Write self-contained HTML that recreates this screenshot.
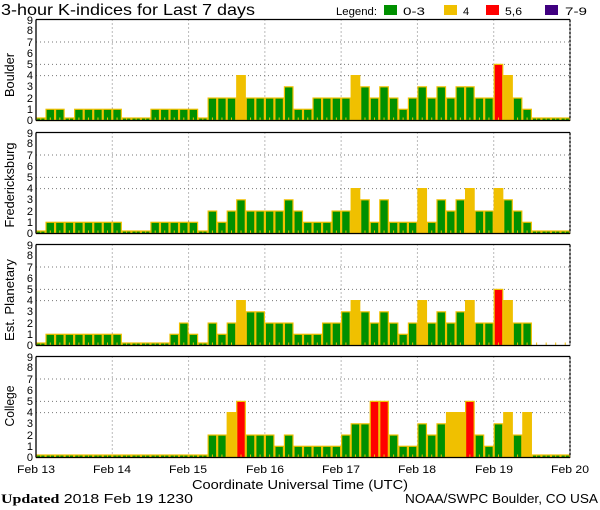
<!DOCTYPE html>
<html><head><meta charset="utf-8"><style>
html,body{margin:0;padding:0;background:#fff;}
svg{display:block;font-family:"Liberation Sans",sans-serif;}
</style></head><body>
<svg id="s" width="600" height="510" viewBox="0 0 600 510" xmlns="http://www.w3.org/2000/svg">
<rect width="600" height="510" fill="#fff"/>
<text x="1" y="15" font-size="16" fill="#000" textLength="254" lengthAdjust="spacingAndGlyphs">3-hour K-indices for Last 7 days</text>
<text x="336" y="15" font-size="11" textLength="41" lengthAdjust="spacingAndGlyphs">Legend:</text>
<rect x="384" y="5" width="13" height="10" fill="#009000"/><text x="403" y="15" font-size="11" textLength="22" lengthAdjust="spacingAndGlyphs">0-3</text>
<rect x="444" y="5" width="13" height="10" fill="#f0c000"/><text x="463" y="15" font-size="11">4</text>
<rect x="486" y="5" width="13" height="10" fill="#ff0000"/><text x="505" y="15" font-size="11" textLength="17" lengthAdjust="spacingAndGlyphs">5,6</text>
<rect x="545" y="5" width="13" height="10" fill="#400080"/><text x="565" y="15" font-size="11" textLength="22" lengthAdjust="spacingAndGlyphs">7-9</text>
<g id="plots"></g>
<g font-size="11" text-anchor="end" id="ylab">
<g><text x="33" y="124">0</text><text x="33" y="113">1</text><text x="33" y="102">2</text><text x="33" y="90">3</text><text x="33" y="79">4</text><text x="33" y="68">5</text><text x="33" y="57">6</text><text x="33" y="46">7</text><text x="33" y="34">8</text><text x="33" y="24">9</text></g>
<g transform="translate(0,113)"><text x="33" y="124">0</text><text x="33" y="113">1</text><text x="33" y="102">2</text><text x="33" y="90">3</text><text x="33" y="79">4</text><text x="33" y="68">5</text><text x="33" y="57">6</text><text x="33" y="46">7</text><text x="33" y="34">8</text><text x="33" y="24">9</text></g>
<g transform="translate(0,225)"><text x="33" y="124">0</text><text x="33" y="113">1</text><text x="33" y="102">2</text><text x="33" y="90">3</text><text x="33" y="79">4</text><text x="33" y="68">5</text><text x="33" y="57">6</text><text x="33" y="46">7</text><text x="33" y="34">8</text><text x="33" y="24">9</text></g>
<g transform="translate(0,337)"><text x="33" y="124">0</text><text x="33" y="113">1</text><text x="33" y="102">2</text><text x="33" y="90">3</text><text x="33" y="79">4</text><text x="33" y="68">5</text><text x="33" y="57">6</text><text x="33" y="46">7</text><text x="33" y="34">8</text><text x="33" y="24">9</text></g>
</g>
<g font-size="13" text-anchor="middle" lengthAdjust="spacingAndGlyphs">
<text transform="translate(14,75) rotate(-90)" textLength="44" lengthAdjust="spacingAndGlyphs">Boulder</text>
<text transform="translate(14,185) rotate(-90)" textLength="85" lengthAdjust="spacingAndGlyphs">Fredericksburg</text>
<text transform="translate(14,300) rotate(-90)" textLength="82" lengthAdjust="spacingAndGlyphs">Est. Planetary</text>
<text transform="translate(14,406) rotate(-90)" textLength="41" lengthAdjust="spacingAndGlyphs">College</text>
</g>
<g font-size="11" text-anchor="middle">
<text x="36" y="473" textLength="38" lengthAdjust="spacingAndGlyphs">Feb 13</text><text x="112" y="473" textLength="38" lengthAdjust="spacingAndGlyphs">Feb 14</text><text x="188" y="473" textLength="38" lengthAdjust="spacingAndGlyphs">Feb 15</text><text x="265" y="473" textLength="38" lengthAdjust="spacingAndGlyphs">Feb 16</text><text x="341" y="473" textLength="38" lengthAdjust="spacingAndGlyphs">Feb 17</text><text x="417" y="473" textLength="38" lengthAdjust="spacingAndGlyphs">Feb 18</text><text x="494" y="473" textLength="38" lengthAdjust="spacingAndGlyphs">Feb 19</text><text x="570" y="473" textLength="38" lengthAdjust="spacingAndGlyphs">Feb 20</text>
</g>
<text x="300" y="489" font-size="13" text-anchor="middle" textLength="216" lengthAdjust="spacingAndGlyphs">Coordinate Universal Time (UTC)</text>
<text x="1" y="503" font-size="13" textLength="192" lengthAdjust="spacingAndGlyphs"><tspan font-family="Liberation Serif" font-weight="bold">Updated</tspan> 2018 Feb 19 1230</text>
<text x="598" y="503" font-size="13" text-anchor="end" textLength="193" lengthAdjust="spacingAndGlyphs">NOAA/SWPC Boulder, CO USA</text>
</svg>
<script>
var data=[
[0,1,1,0,1,1,1,1,1,0,0,0,1,1,1,1,1,0,2,2,2,4,2,2,2,2,3,1, 1,2,2,2,2,4,3,2,3,2,1,2,3,2,3,2,3,3,2,2,5,4,2,1,0,0,0,0],
[0,1,1,1,1,1,1,1,1,0,0,0,1,1,1,1,1,0,2,1,2,3,2,2,2,2,3,2, 1,1,1,2,2,4,3,1,3,1,1,1,4,1,3,2,3,4,2,2,4,3,2,1,0,0,0,0],
[0,1,1,1,1,1,1,1,1,0,0,0,0,0,1,2,1,0,2,1,2,4,3,3,2,2,2,1, 1,1,2,2,3,4,3,2,3,2,1,2,4,2,3,2,3,4,2,2,5,4,2,2,null,null,null,null],
[0,0,0,0,0,0,0,0,0,0,0,0,0,0,0,0,0,0,2,2,4,5,2,2,2,1,2,1, 1,1,1,1,2,3,3,5,5,2,1,1,3,2,3,4,4,5,2,1,3,4,2,4,0,0,0,0]];
var tops=[19.5,132.5,244.5,356.5],H=101,U=101/9,X0=36,W=534,bw=W/56;
var g=document.getElementById('plots'),s='';
function col(v){return v<=3?'#009000':v==4?'#f0c000':v<=6?'#ff0000':'#400080';}
for(var p=0;p<4;p++){var t=tops[p],b=t+H;
 [4,5,7].forEach(function(v){var y=b-v*U;s+='<line x1="36" x2="570" y1="'+y+'" y2="'+y+'" stroke="#777" stroke-dasharray="1,3"/>';});
 for(var d=1;d<7;d++){var x=X0+d*W/7;s+='<line x1="'+x+'" x2="'+x+'" y1="'+t+'" y2="'+b+'" stroke="#777" stroke-dasharray="1,3"/>';}
 for(var i=0;i<56;i++){var v=data[p][i],x=X0+i*bw;
  if(v!==null){var h=v==0?2.5:v*U;s+='<rect x="'+(x+0.5)+'" y="'+(b-h)+'" width="'+(bw-1)+'" height="'+h+'" fill="'+col(v)+'" stroke="#f0c000" stroke-width="1.2"/>';}
  s+='<line x1="'+(x+bw/2)+'" x2="'+(x+bw/2)+'" y1="'+(b-3)+'" y2="'+b+'" stroke="#f0c000" stroke-width="1"/>';}
 s+='<line x1="36" x2="570" y1="'+t+'" y2="'+t+'" stroke="#000" stroke-width="1.3"/>';
 s+='<line x1="36" x2="570" y1="'+b+'" y2="'+b+'" stroke="#000" stroke-width="1.3"/>';
 s+='<line x1="36" x2="36" y1="'+t+'" y2="'+b+'" stroke="#000" stroke-width="1.3"/>';
 s+='<line x1="570" x2="570" y1="'+t+'" y2="'+b+'" stroke="#000" stroke-width="1.3" stroke-dasharray="3,1"/>';
}
g.innerHTML=s;
</script>
</body></html>
